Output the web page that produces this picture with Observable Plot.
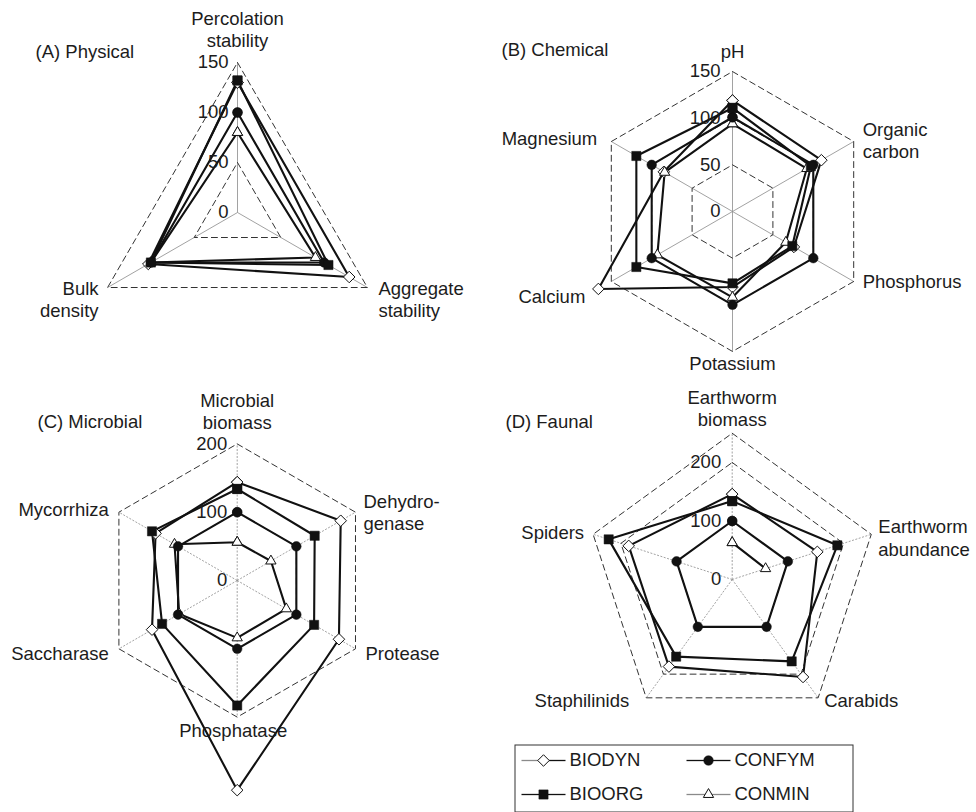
<!DOCTYPE html>
<html><head><meta charset="utf-8">
<script src="https://cdn.jsdelivr.net/npm/d3@7"></script>
<script src="https://cdn.jsdelivr.net/npm/@observablehq/plot@0.6"></script>
<style>
body{margin:0;background:#fff;}
#fig{position:relative;width:976px;height:812px;overflow:hidden;background:#fff;font-family:"Liberation Sans",Arial,sans-serif;}
#fig > div{position:absolute;}
#fig svg{overflow:visible;}
</style></head><body><div id="fig"></div>
<script>
// ---------------- DATA ----------------
const seriesNames = ["BIODYN", "BIOORG", "CONFYM", "CONMIN"];

// (A) Physical
const physicalAxes = ["Percolation\nstability", "Aggregate\nstability", "Bulk\ndensity"];
const physicalBIODYN = [130, 129, 103];
const physicalBIOORG = [132, 105, 100];
const physicalCONFYM = [100, 100, 100];
const physicalCONMIN = [80, 90, 100];
const physicalTicks = [0, 50, 100, 150];
const physicalGrid = [50, 100, 150];

// (B) Chemical
const chemicalAxes = ["pH", "Organic\ncarbon", "Phosphorus", "Potassium", "Calcium", "Magnesium"];
const chemicalBIODYN = [119, 110, 76, 81, 166, 85];
const chemicalBIOORG = [111, 97, 74, 77, 119, 119];
const chemicalCONFYM = [101, 100, 100, 100, 100, 100];
const chemicalCONMIN = [94, 92, 66, 92, 93, 84];
const chemicalTicks = [0, 50, 100, 150];
const chemicalGrid = [50, 100, 150];

// (C) Microbial
const microbialAxes = ["Microbial\nbiomass", "Dehydro-\ngenase", "Protease", "Phosphatase", "Saccharase", "Mycorrhiza"];
const microbialBIODYN = [144, 175, 172, 307, 144, 138];
const microbialBIOORG = [134, 131, 130, 183, 127, 144];
const microbialCONFYM = [100, 100, 100, 100, 100, 100];
const microbialCONMIN = [56, 57, 83, 84, 98, 106];
const microbialTicks = [0, 100, 200];
const microbialGrid = [100, 200];

// (D) Faunal
const faunalAxes = ["Earthworm\nbiomass", "Earthworm\nabundance", "Carabids", "Staphilinids", "Spiders"];
const faunalBIODYN = [146, 153, 206, 184, 186];
const faunalBIOORG = [134, 189, 173, 163, 222];
const faunalCONFYM = [100, 100, 100, 100, 100];
const faunalCONMIN = [63, 60, null, null, null];
const faunalTicks = [0, 100, 200];
const faunalGrid = [100, 200, 250];

// ---------------- LAYOUT ----------------
const FONT = "'Liberation Sans', Arial, Helvetica, sans-serif";
const FS = 18.5;
const INK = "#1c1c1c";

const panels = [
  {title: "(A) Physical", axes: physicalAxes, max: 150, ticks: physicalTicks, grid: physicalGrid,
   values: {BIODYN: physicalBIODYN, BIOORG: physicalBIOORG, CONFYM: physicalCONFYM, CONMIN: physicalCONMIN},
   box: {left: 0, top: 0, w: 488, h: 370}, center: [237, 212], k: 1.0, titleAt: [35, 52], tickDx: -9,
   spokeDash: null, labelOffsets: [[0, -34], [11, 11], [-9, 11]]},
  {title: "(B) Chemical", axes: chemicalAxes, max: 150, ticks: chemicalTicks, grid: chemicalGrid,
   values: {BIODYN: chemicalBIODYN, BIOORG: chemicalBIOORG, CONFYM: chemicalCONFYM, CONMIN: chemicalCONMIN},
   box: {left: 488, top: 0, w: 488, h: 370}, center: [732, 211], k: 0.933, titleAt: [13, 50], tickDx: -12,
   spokeDash: null, labelOffsets: [[0, -21], [9, -2], [9, -1], [0, 11], [-26, 14], [-14, -4]]},
  {title: "(C) Microbial", axes: microbialAxes, max: 200, ticks: microbialTicks, grid: microbialGrid,
   values: {BIODYN: microbialBIODYN, BIOORG: microbialBIOORG, CONFYM: microbialCONFYM, CONMIN: microbialCONMIN},
   box: {left: 0, top: 370, w: 488, h: 442}, center: [236.7, 580], k: 0.683, titleAt: [37, 52], tickDx: -10,
   spokeDash: "2,1.5", labelOffsets: [[0, -33], [8, 0], [10, 4], [-4, 13], [-10, 4], [-10, -3]]},
  {title: "(D) Faunal", axes: faunalAxes, max: 250, ticks: faunalTicks, grid: faunalGrid,
   values: {BIODYN: faunalBIODYN, BIOORG: faunalBIOORG, CONFYM: faunalCONFYM, CONMIN: faunalCONMIN},
   box: {left: 488, top: 370, w: 488, h: 372}, center: [731.7, 579], k: 0.585, titleAt: [17, 52], tickDx: -11,
   spokeDash: "2,1.5", labelOffsets: [[0, -25], [7, 3], [6, 2], [-17, 2], [-9, -2]]}
];

const symbolStyle = {
  BIODYN: {symbol: "diamond2", r: 5.2, fill: "white", stroke: "#111", strokeWidth: 1},
  CONMIN: {symbol: "triangle2", r: 4.9, fill: "white", stroke: "#111", strokeWidth: 1},
  CONFYM: {symbol: "circle", r: 4.8, fill: "#111", stroke: "#111", strokeWidth: 0.5},
  BIOORG: {symbol: "square", r: 5.2, fill: "#111", stroke: "#111", strokeWidth: 0.5}
};
const dotOrder = ["BIODYN", "CONMIN", "CONFYM", "BIOORG"];

function polar(r, i, n) {
  const a = 2 * Math.PI * i / n;
  return [r * Math.sin(a), r * Math.cos(a)];
}

const fig = document.getElementById("fig");

function radar(p) {
  const n = p.axes.length;
  const {left, top, w, h} = p.box;
  const [cx, cy] = p.center;
  const k = p.k;
  const xd = [(left - cx) / k, (left + w - cx) / k];
  const yd = [(cy - (top + h)) / k, (cy - top) / k];

  const gridRows = p.grid.flatMap(L => d3.range(n + 1).map(i => {
    const [x, y] = polar(L, i % n, n); return {L, x, y};
  }));
  const spokeRows = p.axes.map((a, i) => { const [x, y] = polar(p.max, i, n); return {x, y}; });
  const seriesRows = seriesNames.flatMap(s => d3.range(n + 1).map(i => {
    const v = p.values[s][i % n];
    if (v == null) return {s, x: NaN, y: NaN};
    const [x, y] = polar(v, i % n, n); return {s, x, y};
  }));
  const tickRows = p.ticks.map(t => ({t, x: 0, y: t}));

  const labelMarks = p.axes.map((a, i) => {
    const [x, y] = polar(p.max, i, n);
    const sn = Math.sin(2 * Math.PI * i / n);
    const anchor = sn > 0.1 ? "start" : sn < -0.1 ? "end" : "middle";
    return Plot.text([{a, x, y}], {x: "x", y: "y", text: "a", textAnchor: anchor,
      dx: p.labelOffsets[i][0], dy: p.labelOffsets[i][1], lineHeight: 1.2,
      fontSize: FS, fill: INK});
  });

  const dotMarks = dotOrder.map(s => Plot.dot(seriesRows.filter(d => d.s === s && isFinite(d.x)), {
    x: "x", y: "y", ...symbolStyle[s]
  }));

  const chart = Plot.plot({
    width: w, height: h, margin: 0,
    x: {domain: xd, axis: null},
    y: {domain: yd, axis: null},
    style: {fontFamily: FONT, fontSize: FS + "px", background: "transparent", overflow: "visible"},
    marks: [
      Plot.link(spokeRows, {x1: 0, y1: 0, x2: "x", y2: "y", stroke: "#8a8a8a", strokeWidth: 0.8,
        strokeDasharray: p.spokeDash}),
      Plot.line(gridRows, {x: "x", y: "y", z: "L", stroke: "#333", strokeWidth: 1, strokeDasharray: "6,4"}),
      Plot.line(seriesRows, {x: "x", y: "y", z: "s", stroke: "#111", strokeWidth: 2.1, strokeLinejoin: "miter"}),
      ...dotMarks,
      Plot.text(tickRows, {x: "x", y: "y", text: d => String(d.t), textAnchor: "end", dx: p.tickDx,
        fontSize: FS, fill: INK}),
      ...labelMarks,
      Plot.text([p.title], {frameAnchor: "top-left", textAnchor: "start", lineAnchor: "middle",
        dx: p.titleAt[0], dy: p.titleAt[1], fontSize: FS, fill: INK})
    ]
  });
  const holder = document.createElement("div");
  holder.style.left = left + "px";
  holder.style.top = top + "px";
  holder.appendChild(chart);
  fig.appendChild(holder);
}

panels.forEach(radar);

// ---------------- LEGEND ----------------
const legendBox = {left: 488, top: 740, w: 488, h: 72};
const legendRows = seriesNames.map((s, i) => ({s, col: Math.floor(i / 2), row: i % 2}));
const colX = [55, 220];      // marker centre per column (px inside legend area)
const rowY = [20, 54];       // row centre
const halfLine = 22;
const legendLineColor = {BIODYN: ["#8a8a8a", "#111"], BIOORG: ["#111", "#111"], CONFYM: ["#111", "#111"], CONMIN: ["#8a8a8a", "#8a8a8a"]};
const legMarks = [
  Plot.rect([0], {x1: 27, x2: 365, y1: 5, y2: 72, fill: "none", stroke: "#333", strokeWidth: 1}),
  Plot.link(legendRows, {x1: d => colX[d.col] - halfLine, x2: d => colX[d.col], y1: d => rowY[d.row], y2: d => rowY[d.row],
    stroke: d => legendLineColor[d.s][0], strokeWidth: 1.3}),
  Plot.link(legendRows, {x1: d => colX[d.col], x2: d => colX[d.col] + halfLine, y1: d => rowY[d.row], y2: d => rowY[d.row],
    stroke: d => legendLineColor[d.s][1], strokeWidth: 1.3}),
  ...dotOrder.map(s => Plot.dot(legendRows.filter(d => d.s === s), {x: d => colX[d.col], y: d => rowY[d.row], ...symbolStyle[s]})),
  Plot.text(legendRows, {x: d => colX[d.col] + halfLine + 4, y: d => rowY[d.row], text: "s", textAnchor: "start",
    fontSize: FS, fill: INK})
];
const legend = Plot.plot({
  width: legendBox.w, height: legendBox.h, margin: 0,
  x: {domain: [0, legendBox.w], axis: null, type: "identity"},
  y: {domain: [0, legendBox.h], axis: null, type: "identity"},
  color: {type: "identity"},
  style: {fontFamily: FONT, fontSize: FS + "px", background: "transparent", overflow: "visible"},
  marks: legMarks
});
const lh = document.createElement("div");
lh.style.left = legendBox.left + "px";
lh.style.top = legendBox.top + "px";
lh.appendChild(legend);
fig.appendChild(lh);
</script></body></html>
